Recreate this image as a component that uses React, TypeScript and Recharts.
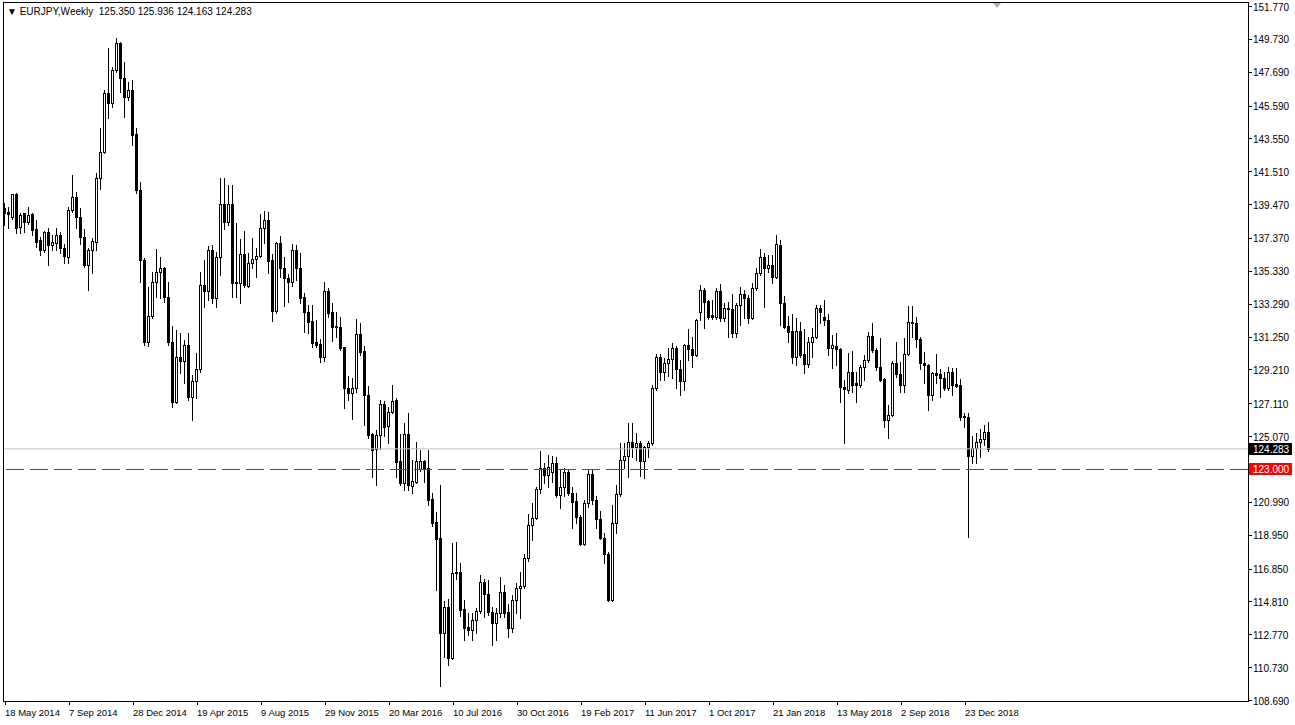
import React from 'react';
import { ComposedChart, Bar, XAxis, YAxis, ReferenceLine } from 'recharts';

// Weekly EURJPY candles, week 0 = 18 May 2014
const opens = [
  139.23, 138.99, 138.68, 140.10, 138.06, 138.92, 138.37, 138.86, 137.93, 137.25,
  136.62, 137.75, 136.94, 137.06, 137.56, 136.75, 136.19, 139.11, 139.92, 138.68,
  137.44, 135.69, 136.62, 137.13, 141.09, 142.71, 146.37, 145.75, 147.80, 149.47,
  147.30, 146.13, 146.56, 143.82, 140.35, 136.00, 130.92, 132.53, 134.64, 135.26,
  135.50, 133.71, 130.92, 127.19, 129.98, 129.73, 130.73, 127.50, 128.49, 129.24,
  134.45, 134.08, 136.62, 133.64, 136.19, 139.48, 138.37, 139.48, 134.64, 134.58,
  136.37, 134.39, 135.81, 136.06, 136.25, 137.99, 138.49, 136.00, 132.84, 137.06,
  135.50, 134.88, 134.64, 136.62, 135.50, 133.71, 132.78, 132.22, 130.92, 130.79,
  129.98, 134.08, 132.78, 131.91, 131.84, 130.60, 128.06, 127.75, 128.06, 131.41,
  130.36, 127.62, 125.20, 124.27, 125.14, 127.07, 125.70, 126.57, 127.31, 123.53,
  122.16, 125.20, 121.97, 122.22, 123.03, 123.53, 123.10, 121.17, 119.74, 118.75,
  112.86, 114.48, 111.31, 116.58, 116.64, 114.35, 113.22, 113.04, 113.66, 114.22,
  116.01, 115.27, 114.16, 113.47, 114.09, 115.40, 114.16, 113.16, 114.90, 115.64,
  115.77, 117.51, 119.56, 119.99, 121.79, 123.09, 122.66, 122.84, 123.40, 121.42,
  121.91, 122.84, 121.54, 121.04, 120.05, 118.38, 120.92, 122.72, 121.11, 119.93,
  118.75, 117.75, 114.90, 119.68, 121.48, 123.59, 123.84, 124.70, 124.39, 124.64,
  123.53, 124.39, 124.64, 128.06, 129.98, 129.05, 129.61, 129.86, 130.54, 129.24,
  128.49, 130.73, 130.48, 130.11, 132.78, 134.14, 133.46, 132.59, 132.47, 134.08,
  132.40, 133.02, 132.96, 131.47, 133.21, 133.89, 133.64, 132.40, 134.26, 135.19,
  136.19, 135.50, 135.69, 134.95, 136.94, 133.33, 131.91, 131.59, 129.98, 131.59,
  130.17, 129.55, 130.92, 131.22, 133.02, 132.46, 132.28, 130.54, 130.67, 130.48,
  128.12, 127.94, 129.05, 128.37, 128.25, 129.36, 129.80, 131.28, 130.42, 129.36,
  128.62, 126.07, 126.38, 129.61, 128.93, 128.25, 130.17, 132.16, 132.09, 131.10,
  129.61, 129.49, 127.62, 128.99, 128.93, 128.68, 128.06, 129.05, 128.31, 128.25,
  126.32, 126.26, 123.84, 124.33, 124.70, 124.89, 125.35,
];
const highs = [
  139.54, 139.30, 140.12, 140.15, 138.92, 138.95, 139.30, 138.92, 138.49, 137.44,
  137.78, 137.99, 137.56, 137.99, 137.75, 137.00, 139.30, 141.28, 140.23, 139.23,
  137.93, 136.75, 137.37, 141.40, 144.19, 146.56, 149.16, 147.99, 149.78, 149.53,
  148.30, 147.06, 147.18, 144.19, 140.85, 136.12, 134.33, 135.26, 136.69, 136.19,
  135.57, 134.64, 131.91, 131.66, 131.47, 131.04, 131.47, 128.87, 130.23, 135.26,
  136.00, 136.87, 136.94, 136.50, 141.09, 141.09, 140.66, 140.66, 138.30, 137.31,
  137.81, 136.43, 137.37, 136.75, 138.86, 139.05, 138.99, 136.37, 137.10, 137.50,
  136.19, 135.13, 137.00, 136.94, 136.43, 133.95, 133.21, 133.21, 132.28, 131.10,
  134.64, 134.26, 133.33, 132.78, 132.46, 130.62, 128.80, 128.68, 132.34, 132.09,
  130.67, 128.18, 125.26, 125.45, 127.31, 127.25, 126.88, 128.25, 127.44, 125.20,
  125.89, 126.50, 123.59, 124.70, 124.21, 123.59, 124.21, 121.54, 120.37, 122.04,
  114.84, 114.98, 118.44, 118.50, 117.20, 114.90, 114.09, 114.09, 114.40, 116.45,
  116.20, 116.14, 114.47, 114.40, 116.33, 115.83, 114.65, 115.21, 115.95, 116.64,
  117.75, 120.24, 120.92, 121.91, 124.15, 123.40, 123.90, 123.84, 123.78, 122.97,
  123.09, 122.97, 121.91, 121.54, 120.18, 121.11, 122.97, 122.97, 121.36, 120.42,
  119.06, 117.88, 120.80, 122.04, 124.64, 124.64, 125.89, 125.89, 125.26, 124.77,
  124.46, 124.77, 128.25, 130.17, 130.17, 129.92, 130.54, 130.85, 130.67, 129.80,
  130.78, 131.72, 131.22, 132.32, 134.45, 134.26, 133.50, 133.52, 134.26, 134.51,
  133.33, 133.40, 133.89, 133.33, 134.33, 134.14, 133.83, 134.58, 135.50, 136.69,
  136.43, 136.31, 136.31, 137.56, 137.25, 133.77, 132.53, 132.65, 132.40, 132.16,
  131.72, 131.22, 131.78, 133.21, 133.21, 133.52, 132.65, 131.35, 131.47, 130.54,
  128.56, 130.23, 130.36, 129.05, 129.49, 130.11, 131.53, 132.09, 130.54, 131.16,
  128.68, 127.00, 129.73, 130.92, 129.67, 131.16, 133.15, 133.15, 132.46, 131.22,
  130.29, 129.55, 129.05, 130.17, 129.24, 129.05, 129.36, 129.30, 129.30, 128.62,
  126.50, 126.50, 125.08, 125.26, 125.51, 125.76, 125.936,
];
const lows = [
  138.18, 137.99, 138.55, 137.68, 137.68, 137.75, 138.24, 137.56, 136.82, 136.31,
  136.50, 135.69, 136.62, 136.62, 136.43, 135.81, 135.81, 138.99, 137.99, 137.00,
  135.57, 134.14, 135.19, 136.62, 140.41, 142.64, 144.81, 145.51, 147.68, 146.44,
  144.88, 145.94, 143.14, 140.16, 134.64, 130.73, 130.67, 132.40, 133.71, 133.64,
  133.40, 130.73, 126.88, 127.15, 128.99, 128.37, 127.31, 126.07, 127.44, 129.05,
  133.09, 133.52, 133.33, 133.09, 135.07, 137.93, 138.18, 133.71, 133.71, 133.33,
  134.33, 134.33, 135.50, 134.95, 136.19, 137.06, 135.19, 132.22, 132.71, 134.95,
  133.15, 133.40, 134.39, 134.76, 133.33, 131.53, 131.47, 130.60, 130.60, 129.67,
  129.73, 132.46, 130.98, 131.22, 130.42, 126.82, 127.31, 126.13, 127.81, 130.11,
  125.76, 124.95, 122.53, 122.04, 124.27, 125.08, 124.64, 126.50, 122.53, 122.04,
  121.73, 121.73, 121.54, 122.16, 122.91, 122.22, 120.80, 119.49, 115.52, 109.56,
  111.37, 110.87, 111.24, 116.20, 113.91, 112.42, 112.73, 112.42, 112.86, 114.09,
  113.85, 113.97, 112.11, 112.42, 113.85, 113.85, 112.60, 112.91, 114.09, 113.78,
  115.64, 117.32, 118.62, 119.93, 121.54, 122.16, 121.91, 122.22, 121.29, 120.61,
  121.36, 121.42, 119.37, 119.68, 118.31, 118.31, 120.67, 120.86, 119.37, 118.69,
  117.20, 114.84, 114.84, 119.06, 121.36, 123.09, 122.53, 123.78, 123.59, 122.60,
  122.47, 123.78, 124.52, 127.94, 128.56, 128.56, 128.80, 128.68, 128.06, 127.62,
  127.94, 129.80, 129.36, 130.05, 132.28, 131.78, 132.34, 132.34, 132.34, 132.22,
  132.22, 131.22, 131.22, 131.22, 131.97, 132.40, 132.09, 132.34, 134.14, 135.07,
  133.09, 135.26, 134.58, 134.88, 131.97, 131.78, 130.92, 129.61, 129.49, 129.98,
  128.99, 129.36, 129.98, 131.16, 132.09, 131.97, 130.11, 129.30, 129.49, 127.19,
  124.64, 127.75, 127.81, 127.19, 128.12, 128.56, 129.67, 130.29, 129.18, 128.50,
  125.64, 124.95, 126.32, 128.74, 127.81, 127.81, 130.11, 131.22, 130.60, 129.24,
  128.37, 126.69, 127.31, 128.37, 127.50, 127.94, 127.94, 127.62, 128.12, 126.07,
  125.64, 118.81, 123.40, 123.40, 123.78, 124.52, 124.163,
];
const closes = [
  138.92, 138.86, 140.10, 137.99, 138.80, 138.37, 138.80, 137.87, 137.13, 136.62,
  137.75, 136.94, 137.13, 137.56, 136.75, 136.25, 139.11, 139.92, 138.68, 137.44,
  135.69, 136.62, 137.19, 141.09, 142.71, 146.37, 145.75, 147.80, 149.47, 147.30,
  146.13, 146.56, 143.76, 140.35, 136.00, 130.92, 132.53, 134.64, 135.26, 135.50,
  133.71, 130.92, 127.19, 129.98, 129.73, 130.73, 127.50, 128.49, 129.24, 134.45,
  134.08, 136.62, 133.64, 136.19, 139.48, 138.37, 139.48, 134.58, 134.58, 136.37,
  134.45, 135.81, 136.06, 136.25, 137.99, 138.49, 135.94, 132.84, 137.06, 135.50,
  134.88, 134.64, 136.62, 135.50, 133.64, 132.78, 132.16, 130.85, 130.73, 129.98,
  134.08, 132.71, 131.84, 131.84, 130.54, 128.06, 127.75, 128.06, 131.41, 130.29,
  127.62, 125.14, 124.21, 125.14, 127.07, 125.64, 126.57, 127.25, 123.46, 122.16,
  125.20, 122.04, 122.29, 123.53, 123.53, 123.03, 121.11, 119.68, 118.69, 112.86,
  114.48, 111.31, 116.58, 116.64, 114.28, 113.16, 113.04, 113.66, 114.22, 116.01,
  115.27, 114.16, 113.47, 114.09, 115.40, 114.09, 113.16, 114.90, 115.64, 115.77,
  117.51, 119.56, 119.99, 121.79, 123.09, 122.66, 123.16, 123.40, 121.42, 121.91,
  122.84, 121.54, 120.98, 120.05, 118.38, 120.92, 122.72, 121.11, 119.93, 118.75,
  117.75, 114.90, 119.68, 121.48, 123.59, 123.84, 124.70, 124.39, 124.64, 123.53,
  124.39, 124.64, 128.06, 129.98, 129.05, 129.61, 129.86, 130.54, 129.24, 128.49,
  130.73, 130.48, 130.11, 132.28, 134.14, 133.40, 132.47, 132.47, 134.08, 132.40,
  133.02, 132.96, 131.47, 133.21, 133.89, 133.64, 132.40, 134.26, 135.19, 136.19,
  135.50, 135.69, 134.95, 137.00, 133.33, 131.84, 131.53, 129.98, 131.59, 130.11,
  129.55, 130.92, 131.22, 133.02, 132.78, 132.28, 130.54, 130.73, 130.48, 128.12,
  128.00, 129.05, 128.25, 128.25, 129.36, 129.80, 131.28, 130.42, 129.36, 128.56,
  126.07, 126.38, 129.61, 128.93, 128.25, 130.17, 132.16, 132.09, 131.10, 129.61,
  129.49, 127.62, 128.99, 128.87, 128.68, 128.06, 129.05, 128.25, 128.18, 126.26,
  126.26, 123.84, 124.33, 124.70, 124.89, 125.35, 124.283,
];

const weekTickIndex = [0, 16, 32, 48, 64, 80, 96, 112, 128, 144, 160, 176, 192, 208, 224, 240];
const weekTickLabels = [
  '18 May 2014', '7 Sep 2014', '28 Dec 2014', '19 Apr 2015', '9 Aug 2015', '29 Nov 2015',
  '20 Mar 2016', '10 Jul 2016', '30 Oct 2016', '19 Feb 2017', '11 Jun 2017', '1 Oct 2017',
  '21 Jan 2018', '13 May 2018', '2 Sep 2018', '23 Dec 2018',
];
const priceTicks = [
  151.77, 149.73, 147.69, 145.59, 143.55, 141.51, 139.47, 137.37, 135.33, 133.29, 131.25,
  129.21, 127.11, 125.07, 120.99, 118.95, 116.85, 114.81, 112.77, 110.73, 108.69,
];
const priceDomain = [108.69, 151.77];
const weekDomain = [-0.5, 310.75];
const bidPrice = 124.283;
const levelPrice = 123.0;
const symbolTitle = 'EURJPY,Weekly';
const lastBar = [125.35, 125.936, 124.163, 124.283];

const data = opens.map((o, i) => ({
  i,
  open: o,
  high: highs[i],
  low: lows[i],
  close: closes[i],
}));

const FONT = '"Liberation Sans", Arial, sans-serif';

const Candle = (props: any) => {
  const { x, y, width, height, payload } = props;
  if (!payload || height == null || isNaN(y)) return null;
  const { open, close, high, low } = payload;
  const cx = Math.round(x + width / 2 - 0.5);
  const span = high - low || 1;
  const yOf = (v: number) => y + ((high - v) / span) * height;
  const yo = Math.round(yOf(open));
  const yc = Math.round(yOf(close));
  const top = Math.min(yo, yc);
  const bot = Math.max(yo, yc);
  const bull = close >= open;
  const yh = Math.round(y);
  const yl = Math.round(y + height);
  return (
    <g shapeRendering="crispEdges">
      <line x1={cx + 0.5} x2={cx + 0.5} y1={yh} y2={yl + 1} stroke="#000" strokeWidth={1} />
      {bot - top >= 1 ? (
        <rect x={cx - 0.5} y={top + 0.5} width={2} height={bot - top} fill={bull ? '#fff' : '#000'} stroke="#000" strokeWidth={1} />
      ) : (
        <line x1={cx - 1} x2={cx + 2} y1={top + 0.5} y2={top + 0.5} stroke="#000" strokeWidth={1} />
      )}
    </g>
  );
};

const PriceTick = (props: any) => {
  const { y, payload } = props;
  return (
    <g shapeRendering="crispEdges">
      <line x1={1248} x2={1252} y1={Math.round(y) + 0.5} y2={Math.round(y) + 0.5} stroke="#000" />
      <text x={1253} y={y + 4.5} fontSize={10} fontFamily={FONT} fill="#000">
        {Number(payload.value).toFixed(3)}
      </text>
    </g>
  );
};

const DateTick = (props: any) => {
  const { x, payload } = props;
  const idx = weekTickIndex.indexOf(payload.value);
  const label = idx >= 0 ? weekTickLabels[idx] : '';
  const px = Math.round(x);
  return (
    <g shapeRendering="crispEdges">
      <line x1={px + 0.5} x2={px + 0.5} y1={701} y2={705} stroke="#000" />
      <text x={px} y={716} fontSize={9.5} fontFamily={FONT} fill="#000" textAnchor="start">
        {label}
      </text>
    </g>
  );
};

const makeTag = (text: string, bg: string) => (props: any) => {
  const vb = props.viewBox || {};
  const yy = Math.round(vb.y);
  return (
    <g>
      <rect x={1249} y={yy - 6} width={43} height={12} fill={bg} />
      <text x={1253} y={yy + 4} fontSize={10} fontFamily={FONT} fill="#fff">
        {text}
      </text>
    </g>
  );
};

export default function App() {
  return (
    <div style={{ position: 'absolute', left: 0, top: 0, width: 1295, height: 725, background: '#fff', overflow: 'hidden' }}>
      <ComposedChart
        width={1295}
        height={725}
        data={data}
        margin={{ top: 6, right: 0, bottom: 0, left: 3 }}
        barCategoryGap={0}
      >
        <XAxis
          type="number"
          dataKey="i"
          domain={weekDomain}
          ticks={weekTickIndex}
          allowDataOverflow
          height={25}
          axisLine={false}
          tickLine={false}
          tick={<DateTick />}
          interval={0}
        />
        <YAxis
          orientation="right"
          type="number"
          domain={priceDomain}
          ticks={priceTicks}
          allowDataOverflow
          width={47}
          axisLine={false}
          tickLine={false}
          tick={<PriceTick />}
          interval={0}
        />
        <ReferenceLine y={bidPrice} stroke="#c0c0c0" strokeWidth={1} label={makeTag(bidPrice.toFixed(3), '#000')} />
        <ReferenceLine y={levelPrice} stroke="#ff0000" strokeWidth={1} strokeDasharray="18 6" label={makeTag(levelPrice.toFixed(3), '#ff0000')} />
        <Bar
          dataKey={(d: any) => [d.low, d.high]}
          barSize={3}
          shape={<Candle />}
          isAnimationActive={false}
        />
      </ComposedChart>
      <div style={{ position: 'absolute', left: 3, top: 2, width: 1246, height: 700, border: '1px solid #000', boxSizing: 'border-box', pointerEvents: 'none' }} />
      <div style={{ position: 'absolute', left: 993, top: 3, width: 0, height: 0, borderLeft: '4px solid transparent', borderRight: '4px solid transparent', borderTop: '5px solid #b0b0b0' }} />
      <div style={{ position: 'absolute', left: 7, top: 6, fontFamily: FONT, fontSize: 10, color: '#000', whiteSpace: 'pre', lineHeight: '12px' }}>
        {'\u25BC ' + symbolTitle + '  ' + lastBar.map((v) => v.toFixed(3)).join(' ')}
      </div>
    </div>
  );
}
